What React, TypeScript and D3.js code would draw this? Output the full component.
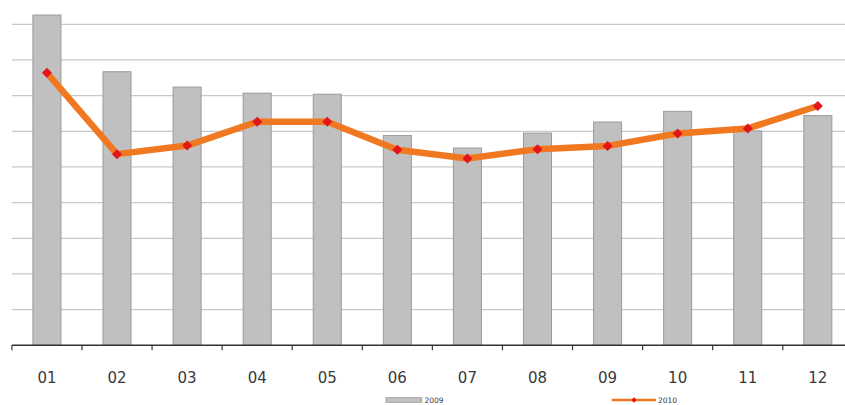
import React from "react";
import * as d3 from "d3";

const categories = ["01", "02", "03", "04", "05", "06", "07", "08", "09", "10", "11", "12"];
const values2009 = [92.6, 76.7, 72.4, 70.7, 70.4, 58.8, 55.3, 59.5, 62.6, 65.6, 60.1, 64.4];
const values2010 = [76.4, 53.6, 56.0, 62.7, 62.7, 54.8, 52.4, 55.0, 55.9, 59.4, 60.8, 67.1];
const gridTicks = [10, 20, 30, 40, 50, 60, 70, 80, 90];
const seriesNames = ["2009", "2010"];

const W = 845;
const H = 405;

export default function App() {
  const x0 = 11.9;
  const step = 70.08;
  const x = d3
    .scaleBand<string>()
    .domain(categories)
    .range([x0, x0 + step * categories.length])
    .paddingInner(0.6)
    .paddingOuter(0.3);
  const xc = (c: string) => (x(c) as number) + x.bandwidth() / 2;
  const y = d3.scaleLinear().domain([0, 90]).range([345.3, 24.3]);

  const line = d3
    .line<number>()
    .x((_, i) => xc(categories[i]))
    .y((d) => y(d));

  const tickXs = d3.range(categories.length + 1).map((i) => x0 + i * step);
  const marker = d3.symbol(d3.symbolSquare, 50)() || "";
  const smallMarker = d3.symbol(d3.symbolSquare, 14)() || "";

  return (
    <svg
      width={W}
      height={H}
      style={{ position: "absolute", left: 0, top: 0, background: "#fff" }}
      fontFamily="'DejaVu Sans', Verdana, sans-serif"
    >
      {gridTicks.map((t) => (
        <line key={t} x1={x0} x2={W} y1={y(t)} y2={y(t)} stroke="#c9c9c9" strokeWidth={1.2} />
      ))}
      {categories.map((c, i) => (
        <rect
          key={c}
          x={x(c)}
          y={y(values2009[i])}
          width={x.bandwidth()}
          height={y(0) - y(values2009[i])}
          fill="#c0c0c0"
          stroke="#9a9a9a"
          strokeWidth={1}
        />
      ))}
      <line x1={x0} x2={W} y1={y(0)} y2={y(0)} stroke="#333" strokeWidth={1.5} />
      {tickXs.map((tx, i) => (
        <line key={i} x1={tx} x2={tx} y1={y(0)} y2={y(0) + 5} stroke="#333" strokeWidth={1.2} />
      ))}
      {categories.map((c) => (
        <text key={c} x={xc(c)} y={383} textAnchor="middle" fontSize={15} fill="#3a3a3a">
          {c}
        </text>
      ))}
      <path d={line(values2010) || ""} fill="none" stroke="#f07820" strokeWidth={6.5} strokeLinejoin="round" />
      {values2010.map((v, i) => (
        <path
          key={i}
          d={marker}
          transform={`translate(${xc(categories[i])},${y(v)}) rotate(45)`}
          fill="#e3141a"
        />
      ))}
      {/* legend */}
      <rect x={386} y={397.7} width={35.7} height={4.6} fill="#c0c0c0" stroke="#9a9a9a" strokeWidth={0.8} />
      <text x={424.5} y={403} fontSize={7.5} fill="#333">{seriesNames[0]}</text>
      <line x1={611.7} x2={656} y1={400} y2={400} stroke="#f07820" strokeWidth={2.5} />
      <path d={smallMarker} transform="translate(634,400) rotate(45)" fill="#e3141a" />
      <text x={658} y={403} fontSize={7.5} fill="#333">{seriesNames[1]}</text>
    </svg>
  );
}
